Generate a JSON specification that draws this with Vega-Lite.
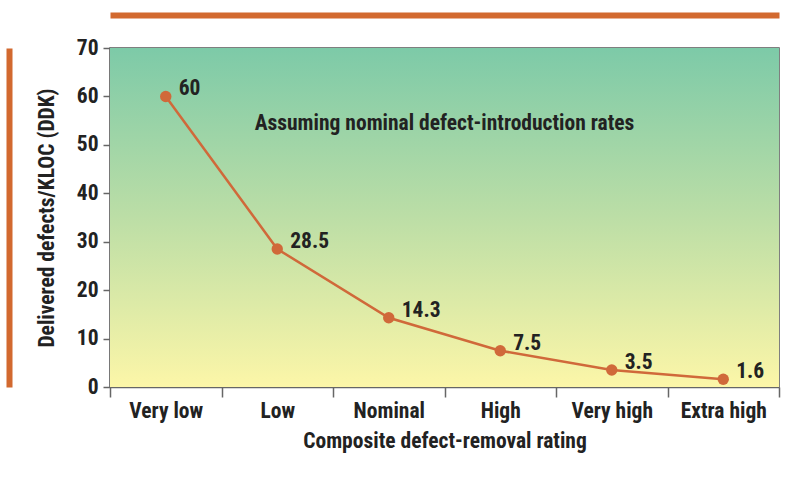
{
  "$schema": "https://vega.github.io/schema/vega-lite/v6.json",
  "width": 669,
  "height": 339,
  "autosize": {"type": "none"},
  "padding": {"left": 110, "top": 48, "right": 22, "bottom": 93},
  "background": "white",
  "config": {
    "font": "Roboto Condensed",
    "view": {"stroke": "#555555", "strokeWidth": 1.5},
    "axis": {
      "labelFont": "Roboto Condensed",
      "titleFont": "Roboto Condensed",
      "labelFontWeight": "bold",
      "titleFontWeight": "bold",
      "labelColor": "#222222",
      "titleColor": "#222222",
      "domainColor": "#666666",
      "tickColor": "#666666",
      "domainWidth": 1.5,
      "tickWidth": 1.5,
      "grid": false
    }
  },
  "data": {
    "values": [
      {"rating": "Very low", "ddk": 60},
      {"rating": "Low", "ddk": 28.5},
      {"rating": "Nominal", "ddk": 14.3},
      {"rating": "High", "ddk": 7.5},
      {"rating": "Very high", "ddk": 3.5},
      {"rating": "Extra high", "ddk": 1.6}
    ]
  },
  "resolve": {"axis": {"x": "independent", "y": "independent"}},
  "layer": [
    {
      "mark": {
        "type": "rect",
        "color": {
          "gradient": "linear",
          "x1": 0, "y1": 0, "x2": 0, "y2": 1,
          "stops": [
            {"offset": 0, "color": "#7dcaa8"},
            {"offset": 0.5, "color": "#bcdea6"},
            {"offset": 1, "color": "#fcf6a8"}
          ]
        }
      },
      "encoding": {
        "y": {
          "datum": 0,
          "type": "quantitative",
          "scale": {"domain": [0, 70], "nice": false},
          "axis": {
            "orient": "left",
            "offset": 101,
            "domainColor": "#d2692f",
            "domainWidth": 6,
            "labels": false,
            "ticks": false,
            "title": null
          }
        },
        "y2": {"datum": 70}
      }
    },
    {
      "mark": {"type": "line", "color": "#d0693a", "strokeWidth": 2.5},
      "encoding": {
        "x": {
          "field": "rating",
          "type": "nominal",
          "sort": ["Very low", "Low", "Nominal", "High", "Very high", "Extra high"],
          "scale": {"type": "band", "paddingInner": 0, "paddingOuter": 0},
          "axis": {
            "orient": "bottom",
            "title": "Composite defect-removal rating",
            "labelAngle": 0,
            "labelFontSize": 21.5,
            "titleFontSize": 21.5,
            "tickBand": "extent",
            "tickSize": 10,
            "labelPadding": 3,
            "titlePadding": 9
          }
        },
        "y": {
          "field": "ddk",
          "type": "quantitative",
          "scale": {"domain": [0, 70], "nice": false},
          "axis": {
            "orient": "left",
            "title": "Delivered defects/KLOC (DDK)",
            "values": [0, 10, 20, 30, 40, 50, 60, 70],
            "labelFontSize": 21.5,
            "titleFontSize": 21.5,
            "tickSize": 7,
            "labelPadding": 5,
            "titlePadding": 18
          }
        }
      }
    },
    {
      "mark": {"type": "point", "filled": true, "color": "#d0693a", "size": 130, "opacity": 1},
      "encoding": {
        "x": {"field": "rating", "type": "nominal", "sort": ["Very low", "Low", "Nominal", "High", "Very high", "Extra high"], "axis": null},
        "y": {"field": "ddk", "type": "quantitative", "axis": null}
      }
    },
    {
      "mark": {"type": "text", "align": "left", "baseline": "middle", "dx": 13, "dy": -7, "fontSize": 21.5, "fontWeight": "bold", "color": "#222222"},
      "encoding": {
        "x": {"field": "rating", "type": "nominal", "sort": ["Very low", "Low", "Nominal", "High", "Very high", "Extra high"], "axis": null},
        "y": {"field": "ddk", "type": "quantitative", "axis": null},
        "text": {"field": "ddk", "type": "quantitative"}
      }
    },
    {
      "data": {"values": [{"note": "Assuming nominal defect-introduction rates"}]},
      "mark": {"type": "text", "align": "center", "baseline": "middle", "fontSize": 21.5, "fontWeight": "bold", "color": "#222222"},
      "encoding": {
        "x": {
          "datum": "Nominal",
          "type": "nominal",
          "bandPosition": 1,
          "axis": {
            "orient": "top",
            "offset": 33,
            "domainColor": "#d2692f",
            "domainWidth": 6,
            "labels": false,
            "ticks": false,
            "title": null
          }
        },
        "y": {"datum": 54.3, "type": "quantitative", "axis": null},
        "text": {"field": "note"}
      }
    }
  ]
}
